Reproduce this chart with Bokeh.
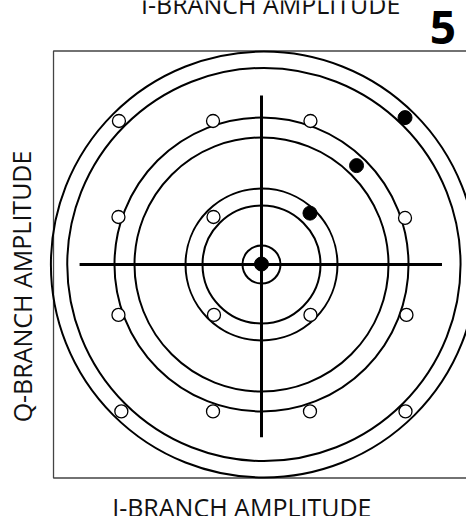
from bokeh.plotting import figure
from bokeh.models import Range1d, Label
from bokeh.embed import file_html
from bokeh.resources import INLINE

# ---- data (units: one constellation step) ----
ring_radius = [0.396, 1.229, 1.583, 2.646, 3.063, 4.097, 4.4375]
ring_cx = [0.0, 0.0, 0.0, 0.0, 0.0, 0.05, 0.05]

open_x = [-2.97, -1.01, 1.02, -2.98, -1.00, 2.99, -2.98, -0.99, 1.02, 3.02, -2.92, -1.01, 1.01, 3.00]
open_y = [2.99, 2.99, 2.99, 0.99, 0.99, 0.97, -1.05, -1.05, -1.05, -1.05, -3.06, -3.06, -3.06, -3.06]

filled_x = [0.0, 1.01, 1.98, 2.99]
filled_y = [0.01, 1.07, 2.06, 3.06]

axis_h_x = [-3.79, 3.76]
axis_h_y = [0.0, 0.0]
axis_v_x = [0.0, 0.0]
axis_v_y = [3.52, -3.60]

frame_x = [4.56, -4.333, -4.333, 4.56]
frame_y = [4.448, 4.448, -4.448, -4.448]

x_label = "I-BRANCH AMPLITUDE"
y_label = "Q-BRANCH AMPLITUDE"
fig_number = "5"

# ---- figure: the plotting frame covers the whole canvas ----
p = figure(width=466, height=516, output_backend="svg", toolbar_location=None,
           x_range=Range1d(-5.4375, 4.2708), y_range=Range1d(-5.25, 5.5),
           x_axis_location=None, y_axis_location=None,
           min_border_left=0, min_border_right=0, min_border_top=0, min_border_bottom=0)
p.grid.visible = False
p.outline_line_color = None
p.background_fill_color = "white"
p.border_fill_color = "white"

# frame (left, top, bottom visible)
p.line(frame_x, frame_y, line_color="#444444", line_width=1.3)

# rings
p.circle(x=ring_cx, y=[0.0] * len(ring_radius), radius=ring_radius,
         fill_color=None, line_color="black", line_width=2)

# crosshair
p.line(axis_h_x, axis_h_y, line_color="black", line_width=3)
p.line(axis_v_x, axis_v_y, line_color="black", line_width=3)

# constellation points
p.scatter(open_x, open_y, size=13, marker="circle", fill_color="white",
          line_color="black", line_width=1.3)
p.scatter(filled_x, filled_y, size=14, marker="circle", fill_color="black",
          line_color="black")

# labels
p.add_layout(Label(x=-0.41, y=-5.05, text=x_label, text_align="center",
                   text_baseline="alphabetic", text_font="Open Sans",
                   text_font_size="25px", text_color="#111111"))
p.add_layout(Label(x=0.19, y=5.43, text=x_label, text_align="center",
                   text_baseline="alphabetic", text_font="Open Sans",
                   text_font_size="25px", text_color="#111111"))
p.add_layout(Label(x=-5.0, y=-0.458, text=y_label, angle=1.5708,
                   text_align="center", text_baseline="alphabetic",
                   text_font="Open Sans", text_font_size="25px",
                   text_color="#111111"))
p.add_layout(Label(x=3.78, y=4.94, text=fig_number, text_align="center",
                   text_baseline="alphabetic", text_font="Open Sans",
                   text_font_style="bold", text_font_size="46px",
                   text_color="black"))

open("out.html", "w").write(file_html(p, INLINE))
